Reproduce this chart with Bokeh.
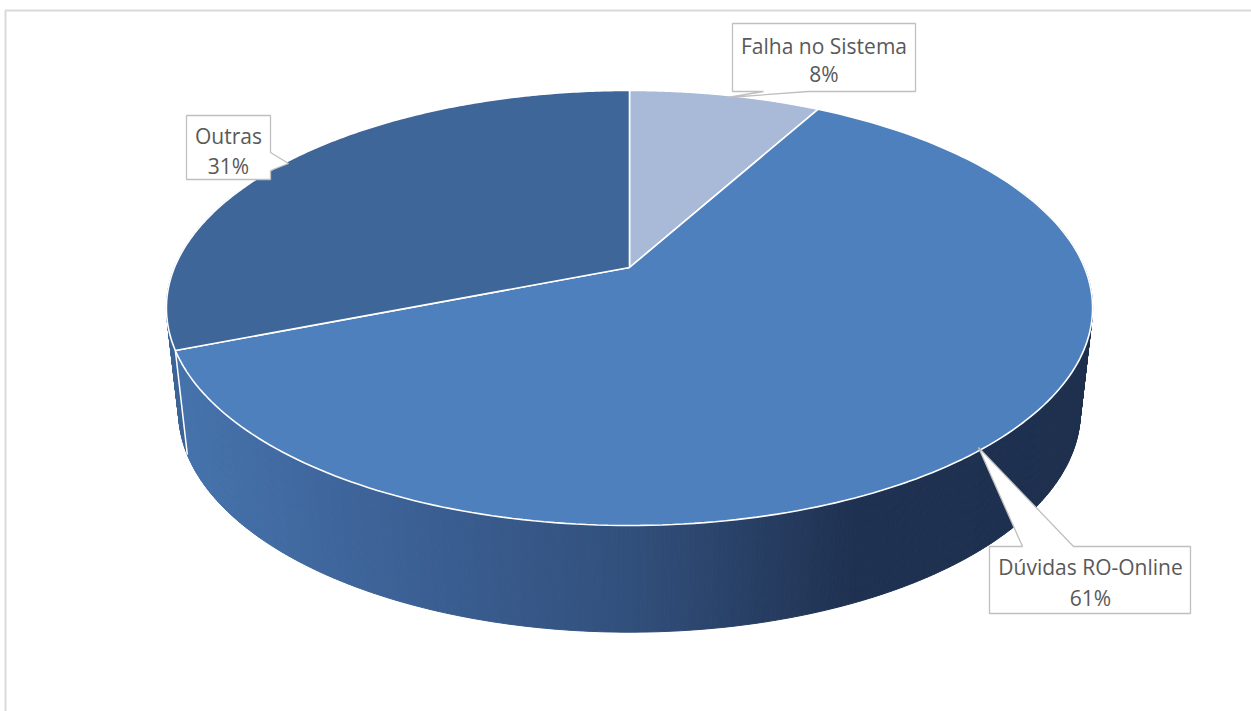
import numpy as np
from bokeh.plotting import figure
from bokeh.models import Range1d, ColumnDataSource
from bokeh.embed import file_html
from bokeh.resources import INLINE
from bokeh.core.properties import value

# ---- data ----
categories = ["Falha no Sistema", "Dúvidas RO-Online", "Outras"]
values = [8, 61, 31]
pct_labels = ["8%", "61%", "31%"]
top_colors = ["#a9b9d8", "#4d80bd", "#3e6698"]
side_shade = [1.0, 1.0, 0.88]

# ---- geometry (pixel space) ----
W, H = 1251, 711
cx, cy = 629.0, 267.0
A, B, K = 455.0, 210.0, -0.186
A2, B2, C2 = 443.0, 213.0, 370.0


def top_pt(t):
    u, v = np.sin(t), -np.cos(t)
    d = 1 + K * v
    return cx + A * u / d, cy + B * v / d


def bot_pt(t):
    u, v = np.sin(t), -np.cos(t)
    d = 1 + K * v
    return cx + A2 * u / d, C2 + B2 * v / d


stops_x = [185, 430, 630, 850, 1100]
stops_c = [(70, 115, 172), (59, 95, 147), (50, 80, 124), (32, 50, 82), (30, 48, 78)]


def grad(x, shade):
    r = np.interp(x, stops_x, [c[0] for c in stops_c]) * shade
    g = np.interp(x, stops_x, [c[1] for c in stops_c]) * shade
    b = np.interp(x, stops_x, [c[2] for c in stops_c]) * shade
    return "#%02x%02x%02x" % (int(r), int(g), int(b))


total = float(sum(values))
bounds = np.concatenate([[0.0], np.cumsum(values) / total * 2 * np.pi])

p = figure(width=W, height=H, x_range=Range1d(0, W), y_range=Range1d(H, 0),
           output_backend="svg", toolbar_location=None, min_border=0,
           x_axis_location=None, y_axis_location=None)
p.grid.visible = False
p.outline_line_color = None
p.background_fill_color = "white"

# chart border
p.line([5, 5, W + 5], [H + 10, 10, 10], line_color="#d9d9d9", line_width=2)

# ---- side walls ----
segs = []
for i in range(len(values)):
    t0, t1 = bounds[i], bounds[i + 1]
    n = max(2, int(np.degrees(t1 - t0) / 0.5))
    ts = np.linspace(t0, t1, n + 1)
    for a, b in zip(ts[:-1], ts[1:]):
        m = 0.5 * (a + b)
        if -np.cos(m) < -0.4:
            continue
        xa, ya = top_pt(a)
        xb, yb = top_pt(b)
        xc, yc = bot_pt(b)
        xd, yd = bot_pt(a)
        col = grad(0.25 * (xa + xb + xc + xd), side_shade[i])
        segs.append((-np.cos(m), [xa, xb, xc, xd], [ya, yb, yc, yd], col))
segs.sort(key=lambda s: s[0])
side_src = ColumnDataSource(dict(xs=[s[1] for s in segs], ys=[s[2] for s in segs],
                                 c=[s[3] for s in segs]))
p.patches("xs", "ys", source=side_src, fill_color="c", line_color="c", line_width=1)

# white edge on side at visible slice boundaries
for t in bounds[1:-1]:
    if -np.cos(t) > -0.1:
        x1, y1 = top_pt(t)
        x2, y2 = bot_pt(t)
        p.line([x1, x2], [y1, y2], line_color="white", line_width=1.5)

# ---- top faces ----
txs, tys = [], []
for i in range(len(values)):
    ts = np.linspace(bounds[i], bounds[i + 1], 200)
    xs = [cx] + [top_pt(t)[0] for t in ts]
    ys = [cy] + [top_pt(t)[1] for t in ts]
    txs.append(xs)
    tys.append(ys)
p.patches(txs, tys, fill_color=top_colors, line_color="white", line_width=1.6)

# ---- callouts ----
call_xs = [
    [732, 915, 915, 808, 727, 763, 732],
    [989, 1022, 978, 1073, 1190, 1190, 989],
    [186, 270, 270, 288, 270, 270, 186],
]
call_ys = [
    [23, 23, 91, 91, 97, 91, 91],
    [546, 546, 447, 546, 546, 613, 613],
    [115, 115, 152, 163, 170, 179, 179],
]
p.patches(call_xs, call_ys, fill_color="white", line_color="#bfbfbf", line_width=1.3)

lab_x = [823.5, 1090, 228]
lab_y1 = [45, 566, 135]
lab_y2 = [73, 597, 165]
p.text(lab_x, lab_y1, text=categories, text_align="center", text_baseline="middle",
       text_font=value("Open Sans"), text_font_size="21px", text_color="#595959")
p.text(lab_x, lab_y2, text=pct_labels, text_align="center", text_baseline="middle",
       text_font=value("Open Sans"), text_font_size="21px", text_color="#595959")

open("out.html", "w").write(file_html(p, INLINE))
